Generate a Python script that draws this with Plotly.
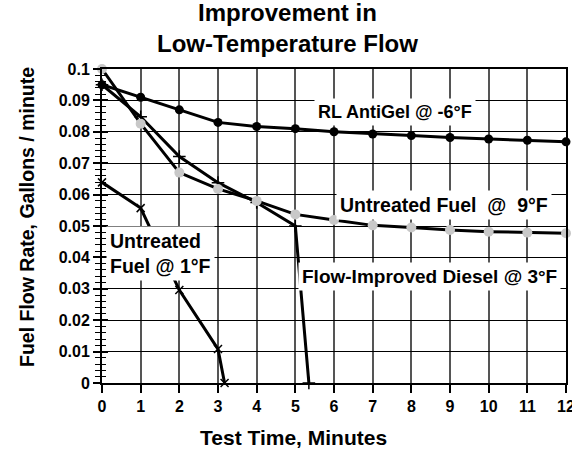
import plotly.graph_objects as go

# ---- data ----
time_rl = [0, 1, 2, 3, 4, 5, 6, 7, 8, 9, 10, 11, 12]
rl_antigel = [0.095, 0.091, 0.087, 0.083, 0.0817, 0.081, 0.0800, 0.0793, 0.0788, 0.0782, 0.0777, 0.0773, 0.0768]

time_untreated9 = [0, 1, 2, 3, 4, 5, 6, 7, 8, 9, 10, 11, 12]
untreated_9 = [0.100, 0.0826, 0.0670, 0.0618, 0.0580, 0.0537, 0.0519, 0.0502, 0.0495, 0.0487, 0.0482, 0.0479, 0.0477]

time_flow = [0, 1, 2, 3, 4, 5, 5.35]
flow_improved = [0.095, 0.0848, 0.0721, 0.0638, 0.0575, 0.0500, 0.0]

time_untreated1 = [0, 1, 2, 3, 3.17]
untreated_1 = [0.0639, 0.0557, 0.0296, 0.0108, 0.0]

x_ticks = list(range(0, 13))
y_ticks = [0, 0.01, 0.02, 0.03, 0.04, 0.05, 0.06, 0.07, 0.08, 0.09, 0.1]

FONT = "Liberation Sans, Arial, sans-serif"
L, R, T, B = 102, 6, 69, 70
W, H = 572, 453
PW, PH = W - L - R, H - T - B


def px(xp):
    return (xp - L) / PW


def py(yp):
    return (H - B - yp) / PH


fig = go.Figure()

fig.add_trace(go.Scatter(
    x=time_untreated1, y=untreated_1, mode="lines+markers",
    line=dict(color="black", width=3),
    marker=dict(symbol="x-thin", size=8, line=dict(color="black", width=1.5), color="black"),
    cliponaxis=False, showlegend=False, name="Untreated Fuel @ 1°F"))

fig.add_trace(go.Scatter(
    x=time_flow, y=flow_improved, mode="lines+markers",
    line=dict(color="black", width=3),
    marker=dict(symbol="cross-thin", size=9, line=dict(color="black", width=1.5), color="black"),
    cliponaxis=False, showlegend=False, name="Flow-Improved Diesel @ 3°F"))

fig.add_trace(go.Scatter(
    x=time_untreated9, y=untreated_9, mode="lines+markers",
    line=dict(color="black", width=3),
    marker=dict(symbol="circle", size=10, color="#c8c8c8"),
    cliponaxis=False, showlegend=False, name="Untreated Fuel @ 9°F"))

fig.add_trace(go.Scatter(
    x=time_rl, y=rl_antigel, mode="lines+markers",
    line=dict(color="black", width=3),
    marker=dict(symbol="circle", size=9, color="black"),
    cliponaxis=False, showlegend=False, name="RL AntiGel @ -6°F"))

# dummy trace for overlay axis (inside ticks)
fig.add_trace(go.Scatter(x=[None], y=[None], yaxis="y2", showlegend=False, hoverinfo="skip"))

tickfont = dict(family=FONT, size=16, color="black", weight="bold")

fig.update_layout(
    width=W, height=H,
    margin=dict(l=L, r=R, t=T, b=B, autoexpand=False),
    paper_bgcolor="white", plot_bgcolor="white",
    font=dict(family=FONT, color="black"),
    xaxis=dict(
        range=[0, 12], tickvals=x_ticks, ticktext=[str(v) for v in x_ticks],
        showgrid=True, gridcolor="#555555", gridwidth=1.5,
        showline=True, linecolor="black", linewidth=2, mirror=True,
        ticks="outside", ticklen=8, tickwidth=1.5, tickcolor="black",
        tickfont=tickfont, zeroline=False, automargin=False,
        ticklabeloverflow="allow",
    ),
    yaxis=dict(
        range=[0, 0.1], tickvals=y_ticks, ticktext=["0" if v == 0 else ("%g" % v) for v in y_ticks],
        showgrid=True, gridcolor="black", gridwidth=1.3,
        showline=True, linecolor="black", linewidth=2, mirror=True,
        ticks="outside", ticklen=7, tickwidth=1.5, tickcolor="black",
        minor=dict(dtick=0.002, tick0=0, ticks="outside", ticklen=5, tickwidth=1.2, tickcolor="black", showgrid=False),
        tickfont=tickfont, zeroline=False, automargin=False,
    ),
    yaxis2=dict(
        overlaying="y", range=[0, 0.1], side="left", anchor="x",
        dtick=0.01, tick0=0, ticks="inside", ticklen=6, tickwidth=1.5, tickcolor="black",
        minor=dict(dtick=0.002, tick0=0, ticks="inside", ticklen=4, tickwidth=1.2, tickcolor="black", showgrid=False),
        showticklabels=False, showgrid=False, zeroline=False, showline=False, automargin=False,
    ),
)

# title
fig.add_annotation(x=px(287), y=py(28), xref="paper", yref="paper",
                   text="Improvement in<br>Low-Temperature Flow", showarrow=False,
                   xanchor="center", yanchor="middle", align="center",
                   font=dict(family=FONT, size=24, color="black", weight="bold"))

fig.add_annotation(x=7.57, y=0.0863, xref="x", yref="y", text="RL AntiGel @ -6°F",
                   showarrow=False, bgcolor="white", borderpad=3,
                   font=dict(family=FONT, size=18, color="black", weight="bold"))
fig.add_annotation(x=8.85, y=0.0567, xref="x", yref="y", text="Untreated Fuel  @  9°F",
                   showarrow=False, bgcolor="white", borderpad=3,
                   font=dict(family=FONT, size=19.5, color="black", weight="bold"))
fig.add_annotation(x=8.48, y=0.0338, xref="x", yref="y", text="Flow-Improved Diesel @ 3°F",
                   showarrow=False, bgcolor="white", borderpad=3,
                   font=dict(family=FONT, size=19, color="black", weight="bold"))
fig.add_annotation(x=0.1, y=0.0414, xref="x", yref="y", text="Untreated<br>Fuel @ 1°F",
                   xanchor="left", align="left",
                   showarrow=False, bgcolor="white", borderpad=3,
                   font=dict(family=FONT, size=19.5, color="black", weight="bold"))

# axis titles
fig.add_annotation(x=px(293), y=py(437), xref="paper", yref="paper",
                   text="Test Time, Minutes", showarrow=False, yanchor="middle",
                   font=dict(family=FONT, size=21, color="black", weight="bold"))
fig.add_annotation(x=px(14), y=py(217), xref="paper", yref="paper",
                   text="Fuel Flow Rate, Gallons / minute", showarrow=False, textangle=-90,
                   font=dict(family=FONT, size=19.5, color="black", weight="bold"))

fig.write_html("out.html", config={"displayModeBar": False},
               post_script="document.body.style.margin='0';document.body.style.overflow='hidden';")
